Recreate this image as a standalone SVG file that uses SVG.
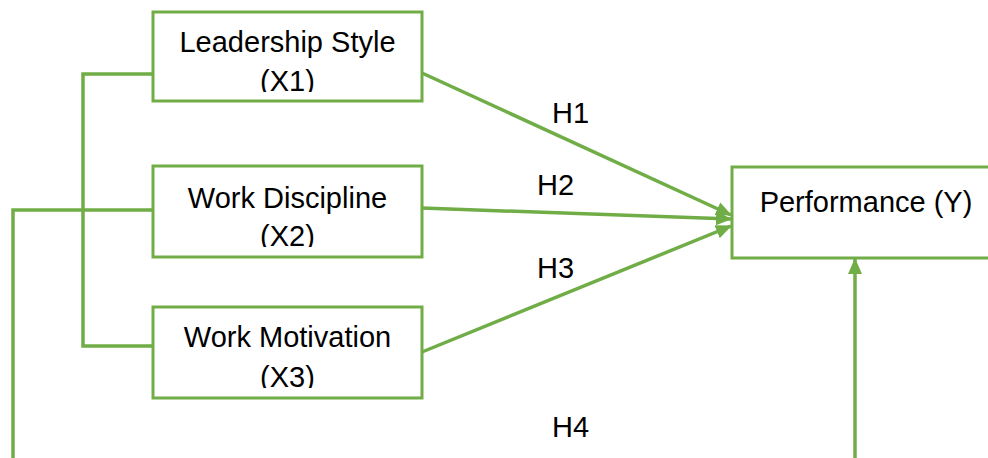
<svg xmlns="http://www.w3.org/2000/svg" width="988" height="458" viewBox="0 0 988 458">
<style>
.box{fill:#fff;stroke:#70AD47;stroke-width:3}
.lbl{font-family:"Liberation Sans",Arial,sans-serif;font-size:29px;fill:#000}
.c{text-anchor:middle}
.conn{fill:none;stroke:#70AD47;stroke-width:3.5}
</style>
<defs>
<marker id="arr" viewBox="0 0 16 14" refX="15" refY="7" markerWidth="16" markerHeight="14" markerUnits="userSpaceOnUse" orient="auto">
<path d="M0,0 L16,7 L0,14 Z" fill="#70AD47"/>
</marker>
<clipPath id="c1"><rect x="150" y="10" width="275" height="82"/></clipPath>
<clipPath id="c2"><rect x="150" y="164" width="275" height="83"/></clipPath>
<clipPath id="c3"><rect x="150" y="305" width="275" height="83"/></clipPath>
</defs>
<rect width="988" height="458" fill="#fff"/>
<g id="connectors">
<polyline class="conn" points="153,74 83,74 83,346 152,346"/>
<polyline class="conn" points="153,210 13,210 13,458"/>
<line class="conn" x1="422" y1="73" x2="731" y2="215" marker-end="url(#arr)"/>
<line class="conn" x1="422" y1="208" x2="731" y2="219" marker-end="url(#arr)"/>
<line class="conn" x1="422" y1="352" x2="731" y2="226" marker-end="url(#arr)"/>
<line class="conn" x1="855" y1="458" x2="855" y2="259" marker-end="url(#arr)"/>
<text class="lbl" x="552" y="123">H1</text>
<text class="lbl" x="537" y="195">H2</text>
<text class="lbl" x="537" y="278">H3</text>
<text class="lbl" x="552" y="437">H4</text>
</g>
<g id="x1">
<rect class="box" x="153" y="12" width="269" height="89"/>
<g clip-path="url(#c1)">
<text class="lbl c" x="287.5" y="52">Leadership Style</text>
<text class="lbl c" x="287.5" y="91">(X1)</text>
</g>
</g>
<g id="x2">
<rect class="box" x="153" y="166" width="269" height="91"/>
<g clip-path="url(#c2)">
<text class="lbl c" x="287.5" y="207.5">Work Discipline</text>
<text class="lbl c" x="287.5" y="245.5">(X2)</text>
</g>
</g>
<g id="x3">
<rect class="box" x="153" y="307" width="269" height="91"/>
<g clip-path="url(#c3)">
<text class="lbl c" x="287.5" y="347">Work Motivation</text>
<text class="lbl c" x="287.5" y="387">(X3)</text>
</g>
</g>
<g id="y">
<rect class="box" x="732" y="167" width="270" height="91"/>
<text class="lbl c" x="866" y="212">Performance (Y)</text>
</g>
</svg>
